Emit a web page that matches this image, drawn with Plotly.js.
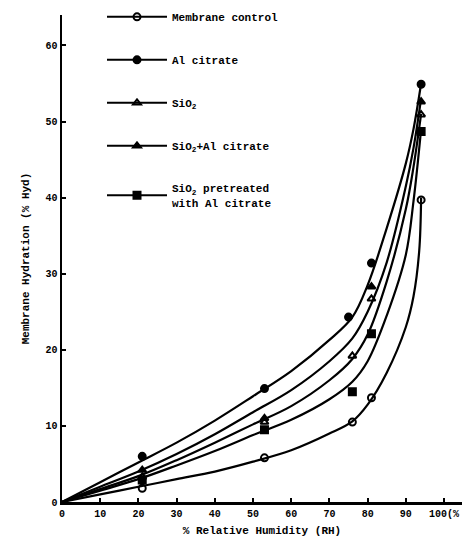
<!DOCTYPE html>
<html>
<head>
<meta charset="utf-8">
<script src="https://cdn.plot.ly/plotly-3.0.1.min.js"></script>
<style>html,body{margin:0;padding:0;background:#fff;}#chart{width:475px;height:547px;}</style>
</head>
<body>
<div id="chart"></div>
<script>
// Series names (legend order)
const seriesNames = ["Membrane control", "Al citrate", "SiO<sub>2</sub>", "SiO<sub>2</sub>+Al citrate", "SiO<sub>2</sub> pretreated<br>with Al citrate"];

const controlX = [21, 53, 76, 81, 94];
const controlY = [1.8, 5.8, 10.5, 13.7, 39.7];
const alCitrateX = [21, 53, 75, 81, 94];
const alCitrateY = [6.0, 14.9, 24.3, 31.4, 54.9];
const sio2X = [21, 53, 76, 81, 94];
const sio2Y = [3.3, 10.5, 19.2, 26.7, 50.9];
const sio2AlX = [21, 53, 81, 94];
const sio2AlY = [4.2, 11.0, 28.3, 52.6];
const pretreatedX = [21, 53, 76, 81, 94];
const pretreatedY = [2.9, 9.5, 14.5, 22.1, 48.7];

// Fitted (hand-drawn) curves at these RH values
const curveX = [0, 10, 20, 30, 40, 50, 60, 70, 76, 80, 85, 90, 92, 94];
const controlCurveX = [0, 10, 20, 30, 40, 50, 60, 70, 76, 80, 85, 90, 92, 93.5, 94];
const controlCurve = [0, 1.0, 2.0, 3.0, 4.0, 5.3, 6.8, 9.0, 10.6, 12.8, 17, 23, 27, 33, 40];
const alCitrateCurve = [0, 2.6, 5.2, 7.8, 10.7, 13.9, 17.2, 21.3, 24.3, 28.5, 36, 44.5, 49, 55];
const sio2AlCurve = [0, 2.0, 4.0, 6.3, 8.9, 11.8, 14.7, 18.5, 21.5, 25, 31.5, 41.5, 46.5, 53];
const sio2Curve = [0, 1.7, 3.4, 5.5, 7.8, 10.2, 12.6, 16, 18.8, 22, 29, 38.5, 44, 51];
const pretreatedCurve = [0, 1.5, 3.0, 4.8, 6.7, 8.8, 10.8, 13.5, 15.8, 18.5, 24.5, 32.5, 39.5, 49];

const xTickVals = [0, 10, 20, 30, 40, 50, 60, 70, 80, 90, 100];
const xTickText = ["0", "10", "20", "30", "40", "50", "60", "70", "80", "90", "100(%"];
const yTickVals = [0, 10, 20, 30, 40, 50, 60];

const ptX = [controlX, alCitrateX, sio2X, sio2AlX, pretreatedX];
const ptY = [controlY, alCitrateY, sio2Y, sio2AlY, pretreatedY];
const cX = [controlCurveX, curveX, curveX, curveX, curveX];
const cY = [controlCurve, alCitrateCurve, sio2Curve, sio2AlCurve, pretreatedCurve];
const symbols = ["circle-open", "circle", "triangle-up-open", "triangle-up", "square"];

// insert gaps so the marker trace draws no connecting segments but keeps a line in the legend
function gapped(arr) { const out = []; arr.forEach((v, i) => { if (i) out.push(null); out.push(v); }); return out; }

const font = "Liberation Mono, DejaVu Sans Mono, monospace";
const traces = [];
cX.forEach((x, i) => {
  traces.push({
    type: "scatter", mode: "lines", showlegend: false, hoverinfo: "skip",
    x: x, y: cY[i],
    line: {color: "#000", width: 2.2, shape: "spline", smoothing: 1}
  });
});
ptX.forEach((x, i) => {
  traces.push({
    type: "scatter", mode: "lines+markers", name: seriesNames[i],
    x: gapped(x), y: gapped(ptY[i]), connectgaps: false,
    legendgroup: "g" + i,
    line: {color: "#000", width: 2},
    marker: {symbol: symbols[i], color: "#000", size: 7, line: {color: "#000", width: 2}}
  });
});

const layout = {
  width: 475, height: 547,
  margin: {l: 62, r: 13, t: 15, b: 45, autoexpand: false},
  paper_bgcolor: "#fff", plot_bgcolor: "#fff",
  font: {family: font, color: "#000", size: 10},
  showlegend: true,
  legend: {
    x: 0.1, y: 1.026, xanchor: "left", yanchor: "top",
    bgcolor: "rgba(0,0,0,0)",
    font: {family: font, size: 11, color: "#000", weight: "bold"},
    tracegroupgap: 24,
    itemwidth: 60
  },
  xaxis: {
    range: [0, 104.7],
    showgrid: false, zeroline: false,
    showline: true, linecolor: "#000", linewidth: 2.5,
    ticks: "inside", ticklen: 4, tickcolor: "#000", tickwidth: 2,
    tickvals: xTickVals, ticktext: xTickText,
    tickfont: {family: font, size: 10, weight: "bold"},
    title: {text: "% Relative Humidity (RH)", font: {family: font, size: 11, weight: "bold"}, standoff: 8}
  },
  yaxis: {
    range: [0, 64],
    showgrid: false, zeroline: false,
    showline: true, linecolor: "#000", linewidth: 2.5,
    ticks: "inside", ticklen: 4, tickcolor: "#000", tickwidth: 2,
    tickvals: yTickVals,
    tickfont: {family: font, size: 10, weight: "bold"},
    title: {text: "Membrane Hydration (% Hyd)", font: {family: font, size: 11, weight: "bold"}, standoff: 14}
  }
};

Plotly.newPlot("chart", traces, layout, {displayModeBar: false, staticPlot: true});
</script>
</body>
</html>
